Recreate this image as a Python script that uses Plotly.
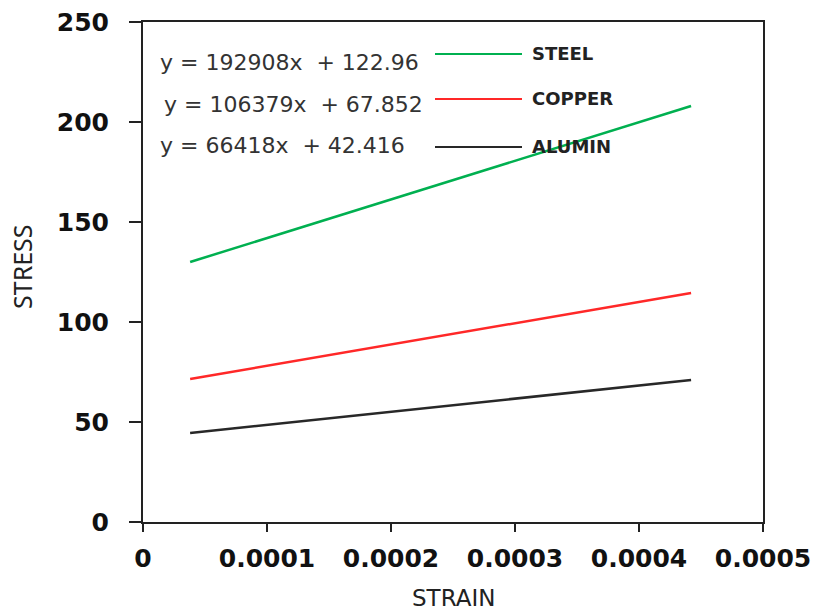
import plotly.graph_objects as go

# Data
strain = [0.000038, 0.000442]
series_names = ["STEEL", "COPPER", "ALUMIN"]
steel = [130.0, 208.0]
copper = [71.5, 114.5]
alumin = [44.5, 71.0]
equations = ["y = 192908x  + 122.96", "y = 106379x  + 67.852", "y = 66418x  + 42.416"]
x_ticks = [0, 0.0001, 0.0002, 0.0003, 0.0004, 0.0005]
x_tick_text = ["0", "0.0001", "0.0002", "0.0003", "0.0004", "0.0005"]
y_ticks = [0, 50, 100, 150, 200, 250]

colors = ["rgb(0,176,80)", "rgb(255,40,40)", "rgb(40,40,40)"]
values = [steel, copper, alumin]

W, H = 817, 611
L, R, T, B = 143, 54, 22, 89
pw, ph = W - L - R, H - T - B

def px(x):
    return (x - L) / pw

def py(y):
    return (H - B - y) / ph

fig = go.Figure()
for name, vals, c in zip(series_names, values, colors):
    fig.add_trace(go.Scatter(x=strain, y=vals, mode="lines", name=name,
                             line=dict(color=c, width=2.5), showlegend=False))

shapes = []
annotations = []
leg_y = [54, 99, 147]
eq_x = [158, 162, 158]
eq_y = [63, 104, 145]
for i, (name, c) in enumerate(zip(series_names, colors)):
    shapes.append(dict(type="line", xref="paper", yref="paper",
                       x0=px(435), x1=px(522), y0=py(leg_y[i]), y1=py(leg_y[i]),
                       line=dict(color=c, width=2)))
    annotations.append(dict(xref="paper", yref="paper", x=px(530), y=py(leg_y[i] - 1),
                            text=name, showarrow=False, xanchor="left", yanchor="middle",
                            font=dict(family="DejaVu Sans", size=18, color="#222", weight="bold")))
    annotations.append(dict(xref="paper", yref="paper", x=px(eq_x[i]), y=py(eq_y[i]),
                            text=equations[i].replace("  ", "&nbsp; "), showarrow=False,
                            xanchor="left", yanchor="middle",
                            font=dict(family="DejaVu Sans", size=22, color="#333")))

# axis titles
annotations.append(dict(xref="paper", yref="paper", x=px(453), y=py(598),
                        text="STRAIN", showarrow=False, xanchor="center", yanchor="middle",
                        font=dict(family="DejaVu Sans", size=23, color="#222")))
annotations.append(dict(xref="paper", yref="paper", x=px(22), y=py(267),
                        text="STRESS", showarrow=False, xanchor="center", yanchor="middle",
                        textangle=-90,
                        font=dict(family="Noto Sans", size=25, color="#222")))

fig.update_layout(
    width=W, height=H,
    margin=dict(l=L, r=R, t=T, b=B, pad=0),
    paper_bgcolor="white", plot_bgcolor="white",
    shapes=shapes, annotations=annotations,
    xaxis=dict(range=[0, 0.0005], tickvals=x_ticks, ticktext=x_tick_text, automargin=False,
               showgrid=False, zeroline=False, showline=True, linecolor="#222", linewidth=2,
               mirror=True, ticks="outside", ticklen=8, tickwidth=2, tickcolor="#222",
               ticklabelstandoff=5,
               tickfont=dict(family="DejaVu Sans", size=25, color="#111", weight="bold")),
    yaxis=dict(range=[0, 250], tickvals=y_ticks, automargin=False,
               showgrid=False, zeroline=False, showline=True, linecolor="#222", linewidth=2,
               mirror=True, ticks="outside", ticklen=12, tickwidth=2, tickcolor="#222",
               ticklabelstandoff=15,
               tickfont=dict(family="DejaVu Sans", size=25, color="#111", weight="bold")),
)

fig.write_html("out.html")
